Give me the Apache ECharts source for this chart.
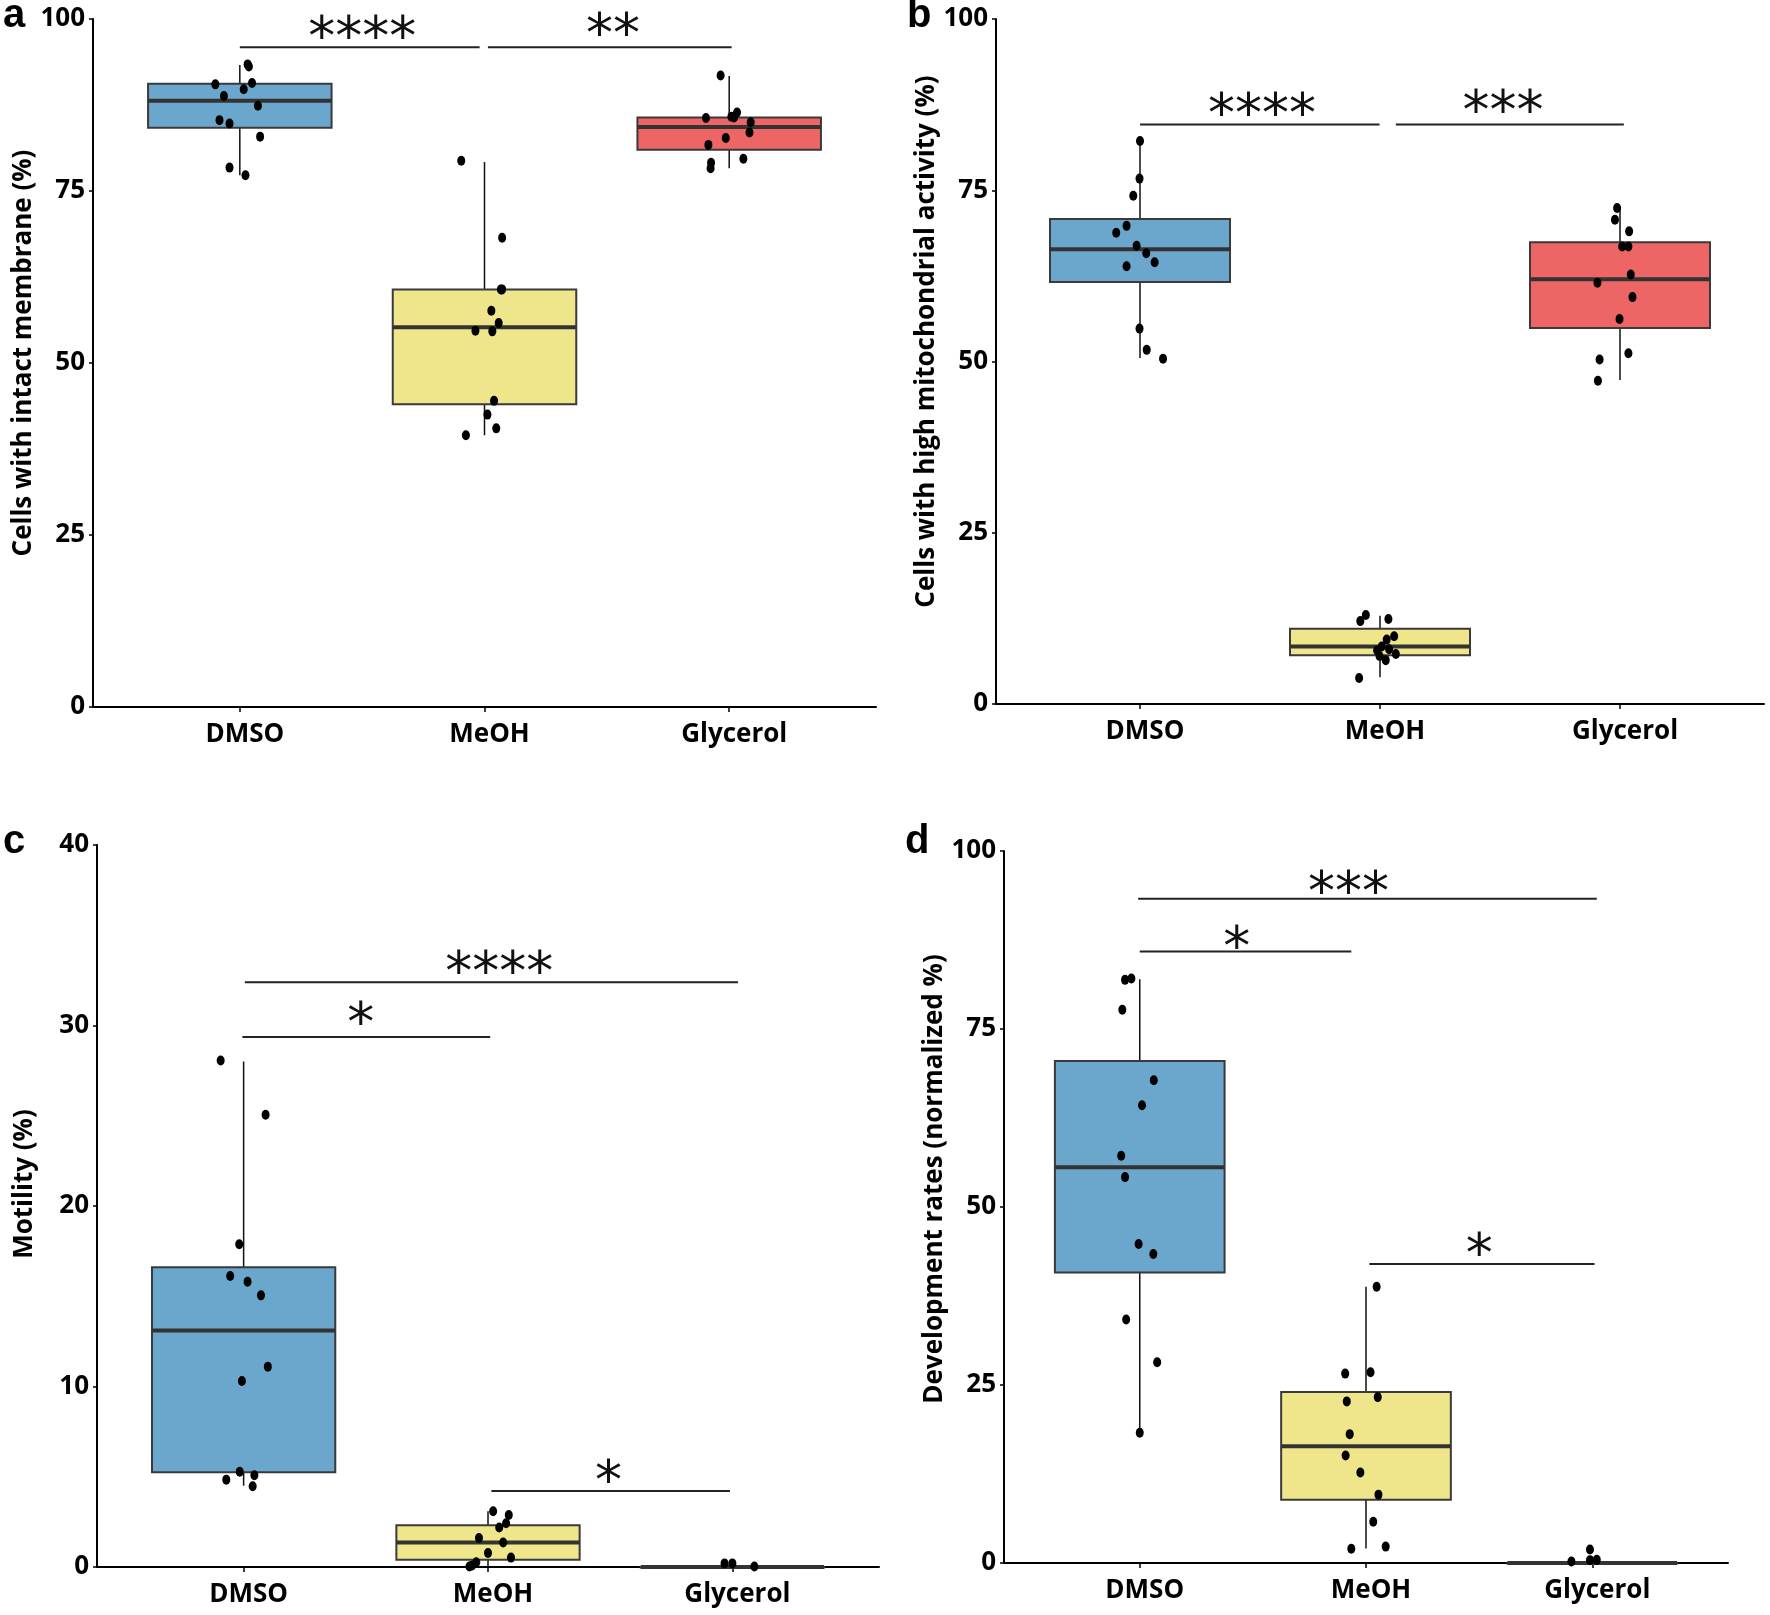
<!DOCTYPE html>
<html>
<head>
<meta charset="utf-8">
<script src="https://cdn.jsdelivr.net/npm/echarts@6/dist/echarts.min.js"></script>
<style>
html,body{margin:0;padding:0;background:#fff;}
#chart{width:1770px;height:1615px;}
</style>
</head>
<body>
<div id="chart"></div>
<script>
// ---------- data ----------
const categories = ['DMSO', 'MeOH', 'Glycerol'];
const catIndex = [0, 1, 2];

const yTicksA = [0, 25, 50, 75, 100];
const yTicksB = [0, 25, 50, 75, 100];
const yTicksC = [0, 10, 20, 30, 40];
const yTicksD = [0, 25, 50, 75, 100];

const yTitleA = 'Cells with intact membrane (%)';
const yTitleB = 'Cells with high mitochondrial activity (%)';
const yTitleC = 'Motility (%)';
const yTitleD = 'Development rates (normalized %)';

// box stats per category: [whisker low, q1, median, q3, whisker high]
const boxA = [[77.3, 84.2, 88.1, 90.6, 93.3], [39.5, 44.0, 55.2, 60.7, 79.2], [78.3, 81.0, 84.3, 85.7, 91.7]];
const boxB = [[50.5, 61.6, 66.4, 70.8, 82.2], [3.9, 7.1, 8.4, 11.0, 12.9], [47.3, 54.9, 62.0, 67.4, 72.4]];
const boxC = [[4.5, 5.25, 13.1, 16.6, 28.0], [0, 0.4, 1.36, 2.31, 3.09], [0, 0, 0, 0, 0]];
const boxD = [[18.3, 40.8, 55.6, 70.5, 82.0], [2.05, 8.9, 16.4, 24.0, 38.8], [0, 0, 0, 0, 0]];

const aDMSO = [90.5, 88.8, 89.8, 90.7, 87.4, 85.3, 84.8, 82.9, 93.4, 93.1, 78.4, 77.3];
const aDMSOjit = [-0.10, -0.065, 0.016, 0.05, 0.074, -0.083, -0.042, 0.083, 0.032, 0.037, -0.042, 0.023];
const aMeOH = [79.4, 68.2, 60.7, 60.7, 57.6, 55.8, 54.7, 54.6, 44.5, 42.5, 40.5, 39.5];
const aMeOHjit = [-0.095, 0.072, 0.072, 0.067, 0.028, 0.058, -0.037, 0.032, 0.039, 0.012, 0.048, -0.076];
const aGly = [91.8, 85.6, 85.8, 85.7, 86.4, 85.0, 83.5, 82.7, 81.7, 79.7, 79.1, 78.3];
const aGlyjit = [-0.035, -0.095, 0.009, 0.02, 0.032, 0.088, 0.083, -0.014, -0.085, 0.058, -0.074, -0.076];

const bDMSO = [82.2, 76.7, 74.2, 69.8, 68.8, 66.9, 65.8, 64.5, 63.9, 54.8, 51.7, 50.4];
const bDMSOjit = [0, -0.002, -0.028, -0.056, -0.099, -0.014, 0.026, 0.061, -0.056, -0.002, 0.028, 0.096];
const bMeOH = [13.0, 12.1, 12.4, 9.9, 9.4, 8.4, 8.0, 7.0, 7.3, 6.4, 3.8, 7.8];
const bMeOHjit = [-0.059, -0.082, 0.035, 0.059, 0.028, 0.007, 0.038, -0.002, 0.066, 0.024, -0.087, -0.012];
const bGly = [72.4, 70.7, 69.0, 66.8, 66.8, 62.7, 61.5, 59.4, 56.2, 51.2, 50.3, 47.2];
const bGlyjit = [-0.012, -0.021, 0.038, 0.009, 0.035, 0.045, -0.094, 0.052, -0.002, 0.035, -0.085, -0.092];

const cDMSO = [28.06, 25.06, 17.88, 16.12, 15.80, 15.05, 11.10, 10.30, 5.28, 4.84, 5.08, 4.47];
const cDMSOjit = [-0.094, 0.090, -0.018, -0.055, 0.016, 0.071, 0.099, -0.007, -0.016, -0.071, 0.044, 0.037];
const cMeOH = [3.09, 2.88, 2.42, 2.19, 1.61, 1.36, 0.78, 0.52, 0.26, 0.09, 0.03];
const cMeOHjit = [0.021, 0.085, 0.074, 0.046, -0.037, 0.062, 0, 0.094, -0.048, -0.065, -0.076];
const cGly = [0.2, 0.2, 0.03];
const cGlyjit = [-0.032, 0, 0.09];

const dDMSO = [81.9, 82.1, 77.7, 67.8, 64.3, 57.2, 54.2, 44.8, 43.4, 34.2, 28.2, 18.3];
const dDMSOjit = [-0.065, -0.037, -0.077, 0.062, 0.010, -0.082, -0.065, -0.005, 0.060, -0.060, 0.077, 0];
const dMeOH = [38.8, 26.6, 26.8, 23.3, 22.7, 18.1, 15.1, 12.7, 9.6, 5.8, 2.0, 2.3];
const dMeOHjit = [0.047, -0.092, 0.020, 0.052, -0.085, -0.072, -0.090, -0.025, 0.055, 0.032, -0.065, 0.087];
const dGly = [1.9, 0.2, 0.4, 0.44];
const dGlyjit = [-0.01, -0.092, -0.01, 0.02];

// significance brackets: [x start, x end, y]
const sigLinesA = [[0, 0.98, 95.9], [1.014, 2.01, 95.9]];
const sigLinesB = [[0, 0.998, 84.6], [1.066, 2.016, 84.6]];
const sigLinesC = [[0.005, 2.023, 32.39], [-0.005, 1.009, 29.36], [1.014, 1.99, 4.21]];
const sigLinesD = [[-0.007, 2.02, 93.3], [0, 0.935, 85.9], [1.015, 2.01, 42.0]];
// significance labels: text, and centre [x, y]
const sigTextA = ['****', '**'];
const sigPosA = [[0.50, 98.9], [1.525, 99.3]];
const sigTextB = ['****', '***'];
const sigPosB = [[0.508, 87.6], [1.513, 88.0]];
const sigTextC = ['****', '*', '*'];
const sigPosC = [[1.046, 33.51], [0.479, 30.71], [1.493, 5.34]];
const sigTextD = ['***', '*', '*'];
const sigPosD = [[0.923, 95.6], [0.429, 87.9], [1.501, 44.8]];

// ---------- styling / layout ----------
const boxColors = ['#6ba6cd', '#efe68b', '#ee6566'];
const FONT = '"Open Sans", Lato, sans-serif';
const FS = 26;
const STAR_FONT_SIZE = 54;

const panels = [
  {letter: 'a', grid: {left: 93, top: 19, width: 783, height: 688}, ticks: yTicksA, title: yTitleA, nameGap: 55, nameShift: 20,
   box: boxA, pts: [[aDMSO, aDMSOjit], [aMeOH, aMeOHjit], [aGly, aGlyjit]], lines: sigLinesA, st: sigTextA, sp: sigPosA, lx: 15, ly: 22},
  {letter: 'b', grid: {left: 996, top: 19, width: 768, height: 685}, ticks: yTicksB, title: yTitleB, nameGap: 54, nameShift: 40,
   box: boxB, pts: [[bDMSO, bDMSOjit], [bMeOH, bMeOHjit], [bGly, bGlyjit]], lines: sigLinesB, st: sigTextB, sp: sigPosB, lx: 919, ly: 22},
  {letter: 'c', grid: {left: 97, top: 845, width: 782, height: 722}, ticks: yTicksC, title: yTitleC, nameGap: 59, nameShift: 44,
   box: boxC, pts: [[cDMSO, cDMSOjit], [cMeOH, cMeOHjit], [cGly, cGlyjit]], lines: sigLinesC, st: sigTextC, sp: sigPosC, lx: 15, ly: 848},
  {letter: 'd', grid: {left: 1004, top: 851, width: 724, height: 712}, ticks: yTicksD, title: yTitleD, nameGap: 56, nameShift: 56,
   box: boxD, pts: [[dDMSO, dDMSOjit], [dMeOH, dMeOHjit], [dGly, dGlyjit]], lines: sigLinesD, st: sigTextD, sp: sigPosD, lx: 917, ly: 848}
];

const grids = [], xAxes = [], yAxes = [], series = [], graphics = [];

panels.forEach((p, k) => {
  grids.push(Object.assign({containLabel: false}, p.grid));
  xAxes.push({
    gridIndex: k, type: 'value', min: -0.6, max: 2.6,
    axisLine: {show: true, onZero: false, lineStyle: {color: '#000', width: 2}},
    axisTick: {show: true, customValues: catIndex, length: 5, lineStyle: {color: '#000', width: 1.5}},
    axisLabel: {show: true, customValues: catIndex, formatter: v => categories[Math.round(v)],
      fontFamily: FONT, fontWeight: 'bold', fontSize: FS, color: '#000', margin: 15, padding: [0, 0, 0, 10]},
    splitLine: {show: false}
  });
  const tmax = p.ticks[p.ticks.length - 1];
  yAxes.push({
    gridIndex: k, type: 'value', min: p.ticks[0], max: tmax,
    name: p.title, nameLocation: 'middle', nameGap: p.nameGap,
    nameTextStyle: {fontFamily: FONT, fontWeight: 'bold', fontSize: FS, color: '#000', padding: [0, 0, 0, p.nameShift]},
    axisLine: {show: true, onZero: false, lineStyle: {color: '#000', width: 2}},
    axisTick: {show: true, customValues: p.ticks, length: 4, lineStyle: {color: '#000', width: 1.5}},
    axisLabel: {show: true, customValues: p.ticks, fontFamily: FONT, fontWeight: 'bold', fontSize: FS, color: '#000', margin: 8},
    splitLine: {show: false}
  });

  // boxes
  series.push({
    type: 'custom', xAxisIndex: k, yAxisIndex: k, z: 2,
    data: p.box.map((b, i) => [catIndex[i]].concat(b)),
    renderItem: function (params, api) {
      const x = api.value(0), lo = api.value(1), q1 = api.value(2), med = api.value(3), q3 = api.value(4), hi = api.value(5);
      const tl = api.coord([x - 0.375, q3]);
      const br = api.coord([x + 0.375, q1]);
      const pm = api.coord([x, med]);
      const pLo = api.coord([x, lo]);
      const pHi = api.coord([x, hi]);
      return {type: 'group', children: [
        {type: 'line', shape: {x1: pLo[0], y1: pLo[1], x2: pHi[0], y2: pHi[1]}, style: {stroke: '#111', lineWidth: 1.5}},
        {type: 'rect', shape: {x: tl[0], y: tl[1], width: br[0] - tl[0], height: Math.max(br[1] - tl[1], 0.5)},
         style: {fill: boxColors[Math.round(x)], stroke: '#3a3a3a', lineWidth: 2}},
        {type: 'line', shape: {x1: tl[0], y1: pm[1], x2: br[0], y2: pm[1]}, style: {stroke: '#333', lineWidth: 4}}
      ]};
    },
    silent: true
  });

  // points
  const pts = [];
  p.pts.forEach((pair, ci) => {
    pair[0].forEach((v, i) => pts.push([catIndex[ci] + pair[1][i], v]));
  });
  series.push({
    type: 'scatter', xAxisIndex: k, yAxisIndex: k, z: 5,
    data: pts, symbol: 'circle', symbolSize: [8, 10],
    itemStyle: {color: '#000', opacity: 1}, silent: true, clip: false
  });

  // significance lines
  series.push({
    type: 'custom', xAxisIndex: k, yAxisIndex: k, z: 6,
    data: p.lines,
    renderItem: function (params, api) {
      const a = api.coord([api.value(0), api.value(2)]);
      const b = api.coord([api.value(1), api.value(2)]);
      return {type: 'line', shape: {x1: a[0], y1: a[1], x2: b[0], y2: b[1]}, style: {stroke: '#222', lineWidth: 2}};
    },
    silent: true
  });

  // significance stars
  const texts = p.st;
  series.push({
    type: 'custom', xAxisIndex: k, yAxisIndex: k, z: 6,
    data: p.sp,
    renderItem: function (params, api) {
      const c = api.coord([api.value(0), api.value(1)]);
      return {type: 'text', x: c[0], y: c[1] + STAR_FONT_SIZE * 0.24,
        style: {text: texts[params.dataIndex], fill: '#111', font: 'normal ' + STAR_FONT_SIZE + 'px "DejaVu Sans"',
          align: 'center', verticalAlign: 'middle'}};
    },
    silent: true
  });

  graphics.push({type: 'text', left: p.lx - 12, top: p.ly - 26,
    style: {text: p.letter, fill: '#000', font: 'bold 40px "Liberation Sans", Arial, sans-serif'}});
});

const chart = echarts.init(document.getElementById('chart'), null, {renderer: 'canvas'});
chart.setOption({
  backgroundColor: '#fff',
  animation: false,
  grid: grids,
  xAxis: xAxes,
  yAxis: yAxes,
  series: series,
  graphic: graphics
});
</script>
</body>
</html>
